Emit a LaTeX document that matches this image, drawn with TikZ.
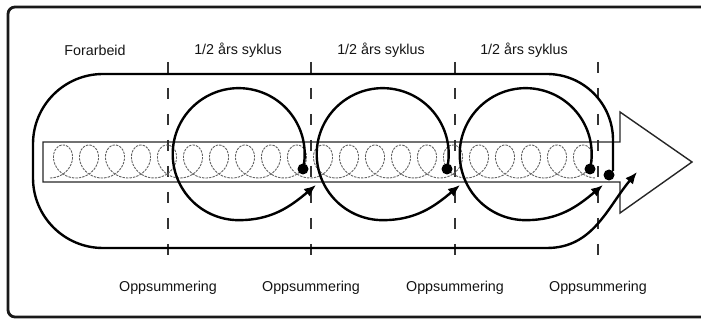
\documentclass[tikz,border=0pt]{standalone}
\usepackage{fontspec}
\setmainfont{Liberation Sans}
\usetikzlibrary{arrows.meta}

\tikzset{
    frame/.style={draw=black!90, line width=2.8pt, rounded corners=7pt},
    track/.style={draw=black!85, line width=1.4pt},
    divider/.style={draw=black!80, line width=1.2pt, dash pattern=on 11pt off 15pt},
    coil/.style={draw=black!62, line width=0.9pt, dash pattern=on 2.4pt off 1.1pt},
    spin/.style={draw=black, line width=2.4pt, -{Latex[length=12pt,width=10pt]}},
    knot/.style={circle, fill=black, inner sep=0pt, minimum size=11pt},
    phase/.style={font=\fontsize{14.3}{17}\selectfont, text=black!92},
}

\begin{document}
\begin{tikzpicture}[x=1pt, y=1pt]
    \useasboundingbox (0, 0) rectangle (701, 321);
    \clip (0, 0) rectangle (701, 321);
    \draw[frame] (8, 4) rectangle (716, 314);

    % headings
    \node[phase] (pre) at (95, 271) {Forarbeid};
    \node[phase] (half1) at (238, 271) {1/2 års syklus};
    \node[phase] (half2) at (381, 271) {1/2 års syklus};
    \node[phase] (half3) at (524, 271) {1/2 års syklus};

    % summaries and dividers
    \node[phase] (sum1) at (168, 33) {Oppsummering};
    \node[phase] (sum2) at (311, 33) {Oppsummering};
    \node[phase] (sum3) at (455, 33) {Oppsummering};
    \node[phase] (sum4) at (598, 33) {Oppsummering};

    \coordinate (cut1) at (168, 259);
    \coordinate (cut2) at (311, 259);
    \coordinate (cut3) at (455, 259);
    \coordinate (cut4) at (598, 259);
    \draw[divider] (cut1) -- (cut1 |- 0, 51);
    \draw[divider] (cut2) -- (cut2 |- 0, 51);
    \draw[divider] (cut3) -- (cut3 |- 0, 51);
    \draw[divider] (cut4) -- (cut4 |- 0, 51);

    % bar with arrow head
    \draw[track]
        (43, 139) -- (43, 179) -- (620, 179) -- (620, 209) -- (692, 159)
        -- (620, 108) -- (620, 139) -- cycle;
    \draw[coil] plot[domain=0:21, samples=840, smooth]
        ({50 + 26*\x + 15.5*sin(360*\x)}, {159.5 - 16.5*cos(360*\x)});

    % cycles
    \node[knot] (d1) at (303, 152) {};
    \node[knot] (d2) at (447, 152) {};
    \node[knot] (d3) at (590, 152) {};
    \node[knot] (d4) at (609, 146) {};
    \coordinate (t1) at (316, 136);
    \coordinate (t2) at (460, 136);
    \coordinate (t3) at (603, 136);
    \coordinate (t4) at (637, 149);

    \draw[spin] (d1.center) arc[start angle=-13, end angle=270, radius=66]
        to[out=0, in=220] (t1);
    \draw[spin] (d2.center) arc[start angle=-13, end angle=270, radius=66]
        to[out=0, in=220] (t2);
    \draw[spin] (d3.center) arc[start angle=-13, end angle=270, radius=66]
        to[out=0, in=220] (t3);

    \draw[spin] (d4.north east) -- (613, 181) arc[start angle=0, end angle=90, radius=66]
        -- (103, 247) arc[start angle=90, end angle=180, radius=70]
        -- (33, 143) arc[start angle=180, end angle=270, radius=70]
        -- (547, 73) to[out=0, in=230] (t4);
\end{tikzpicture}
\end{document}
